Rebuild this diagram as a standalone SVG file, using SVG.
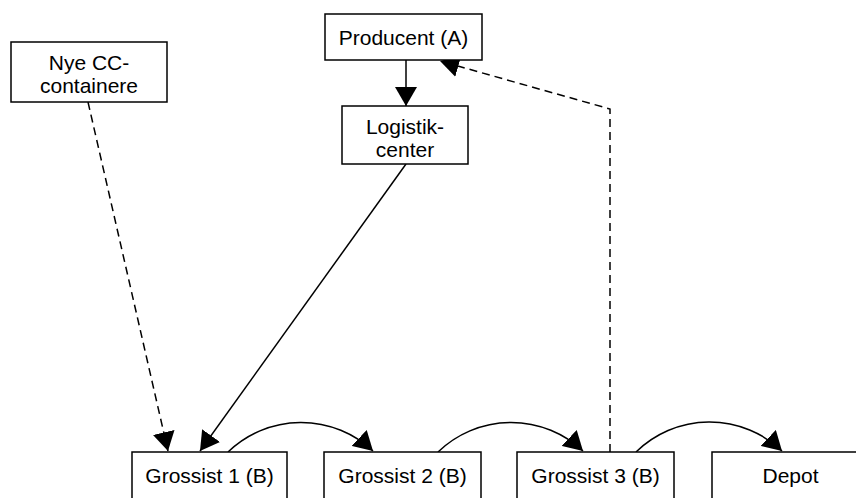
<svg xmlns="http://www.w3.org/2000/svg" width="856" height="498" viewBox="0 0 856 498">
  <style>
    .box { fill: #fff; stroke: #000; stroke-width: 1.5; }
    .lbl { font-family: "Liberation Sans", Arial, sans-serif; font-size: 21px; fill: #000; text-anchor: middle; }
    .flow { fill: none; stroke: #000; stroke-width: 1.5; marker-end: url(#head); }
    .dash { stroke-dasharray: 8 5; }
  </style>
  <defs>
    <marker id="head" viewBox="0 -11 19 22" refX="19" refY="0" markerWidth="19" markerHeight="22" markerUnits="userSpaceOnUse" orient="auto">
      <path d="M0,-11 L19,0 L0,11 Z" fill="#000"/>
    </marker>
  </defs>

  <rect width="856" height="498" fill="#fff"/>

  <g id="connectors">
    <path class="flow" d="M406,60 L406,106"/>
    <path class="flow" d="M406,164 L200,451"/>
    <path class="flow dash" d="M88,102 L168,451"/>
    <path class="flow dash" d="M610,452 L610,109 L440,61"/>
    <path class="flow" d="M228,452 A105,105 0 0 1 373,451"/>
    <path class="flow" d="M438,452 A105,105 0 0 1 583,451"/>
    <path class="flow" d="M636,452 A105,105 0 0 1 782,451"/>
  </g>

  <g id="nye-cc">
    <rect class="box" x="11" y="42" width="156" height="60"/>
    <text class="lbl" x="89" y="69.5">Nye CC-</text>
    <text class="lbl" x="89" y="93">containere</text>
  </g>

  <g id="producent">
    <rect class="box" x="325" y="14" width="157" height="46"/>
    <text class="lbl" x="403.5" y="44.5">Producent (A)</text>
  </g>

  <g id="logistikcenter">
    <rect class="box" x="342" y="106" width="126" height="58"/>
    <text class="lbl" x="405" y="134">Logistik-</text>
    <text class="lbl" x="405" y="157">center</text>
  </g>

  <g id="grossist1">
    <rect class="box" x="132" y="452" width="155" height="60"/>
    <text class="lbl" x="209.5" y="483">Grossist 1 (B)</text>
  </g>

  <g id="grossist2">
    <rect class="box" x="324" y="452" width="157" height="60"/>
    <text class="lbl" x="402.5" y="483">Grossist 2 (B)</text>
  </g>

  <g id="grossist3">
    <rect class="box" x="517" y="452" width="157" height="60"/>
    <text class="lbl" x="595.5" y="483">Grossist 3 (B)</text>
  </g>

  <g id="depot">
    <rect class="box" x="712" y="452" width="157" height="60"/>
    <text class="lbl" x="790.5" y="483">Depot</text>
  </g>
</svg>
